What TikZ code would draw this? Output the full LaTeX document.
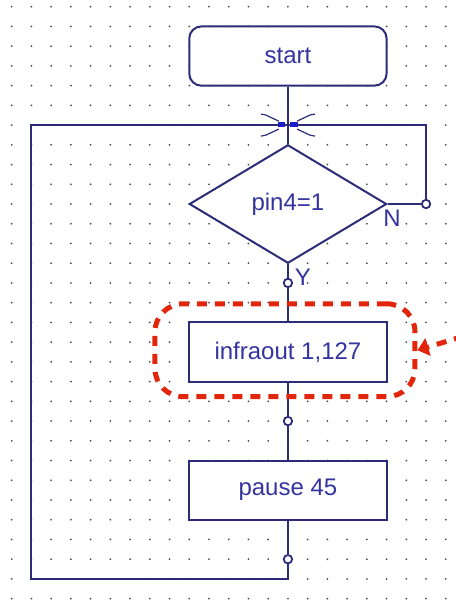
\documentclass[tikz,border=0pt]{standalone}
\usepackage{fontspec}
\setmainfont{Liberation Sans}
\usetikzlibrary{shapes.geometric,arrows.meta}
\definecolor{flowline}{RGB}{44,44,120}
\definecolor{flowtext}{RGB}{52,52,160}
\definecolor{joinblue}{RGB}{30,30,200}
\definecolor{marker}{RGB}{226,38,12}

\begin{document}
\begin{tikzpicture}[x=9.865pt, y=-9.865pt,
    line/.style={draw=flowline, line width=1pt},
    cmd/.style={line, fill=white, rectangle, minimum width=98.65pt, minimum height=29.6pt,
      inner sep=0pt, text=flowtext, font=\fontsize{12}{14}\selectfont},
    lbl/.style={text=flowtext, inner sep=0pt, font=\fontsize{12}{14}\selectfont},
    pin/.style={circle, draw=flowline, fill=white, line width=0.9pt, inner sep=0pt, minimum size=4.2pt},
    crossmark/.style={draw=flowline, line width=0.6pt},
    redline/.style={draw=marker, line width=2.5pt, dash pattern=on 5pt off 4pt}]
  \useasboundingbox (-0.593,-0.34) rectangle (22.47,30.17);
  % dot grid
  \foreach \i in {0,...,22}{
    \foreach \j in {0,...,30}{
      \fill[black!70] (\i,\j) circle (0.5pt);
    }
  }
  \coordinate (join) at (14,6);
  \coordinate (back) at (14,29);
  \coordinate (tl) at (1,6);
  \node[cmd, rounded corners=6pt] (start) at (14,2.5) {start};
  \node[cmd, diamond, minimum width=98.65pt, minimum height=59.2pt] (test) at (14,10) {pin4=1};
  \node[cmd] (infra) at (14,17.5) {infraout 1,127};
  \node[cmd] (pause) at (14,24.5) {pause 45};
  \node[pin] (nc) at (21,10) {};
  \node[pin] (yc) at (14,14) {};
  \node[pin] (c2) at (14,21) {};
  \node[pin] (c3) at (14,28) {};
  \node[lbl] (no) at (19.28,10.71) {N};
  \node[lbl] (yes) at (14.76,13.7) {Y};

  \draw[line] (start) -- (join) -- (test);
  \draw[line] (test.east) -- (nc) |- (join);
  \draw[line] (test.south) -- (yc) -- (infra);
  \draw[line] (infra) -- (c2) -- (pause);
  \draw[line] (pause) -- (c3) -- (back) -| (tl) -- (join);

  % join marks
  \foreach \sx in {-1,1}{
    \foreach \sy in {-1,1}{
      \draw[crossmark] (join) ++(\sx*1.37,\sy*0.56) -- ++(-\sx*0.25,-\sy*0.05) -- ++(-\sx*0.66,-\sy*0.31);
    }
  }
  \fill[joinblue] (join) ++(-0.51,-0.15) rectangle ++(0.36,0.27);
  \fill[joinblue] (join) ++(0.12,-0.15) rectangle ++(0.39,0.27);

  % highlight
  \node[redline, rounded corners=14pt, minimum width=130pt, minimum height=46.4pt] (hl) at (13.85,17.41) {};
  \coordinate (ptr) at (22.9,16.7);
  \draw[redline, -{Triangle[length=5.5pt,width=9pt]}] (ptr) -- (hl.east);
\end{tikzpicture}
\end{document}
